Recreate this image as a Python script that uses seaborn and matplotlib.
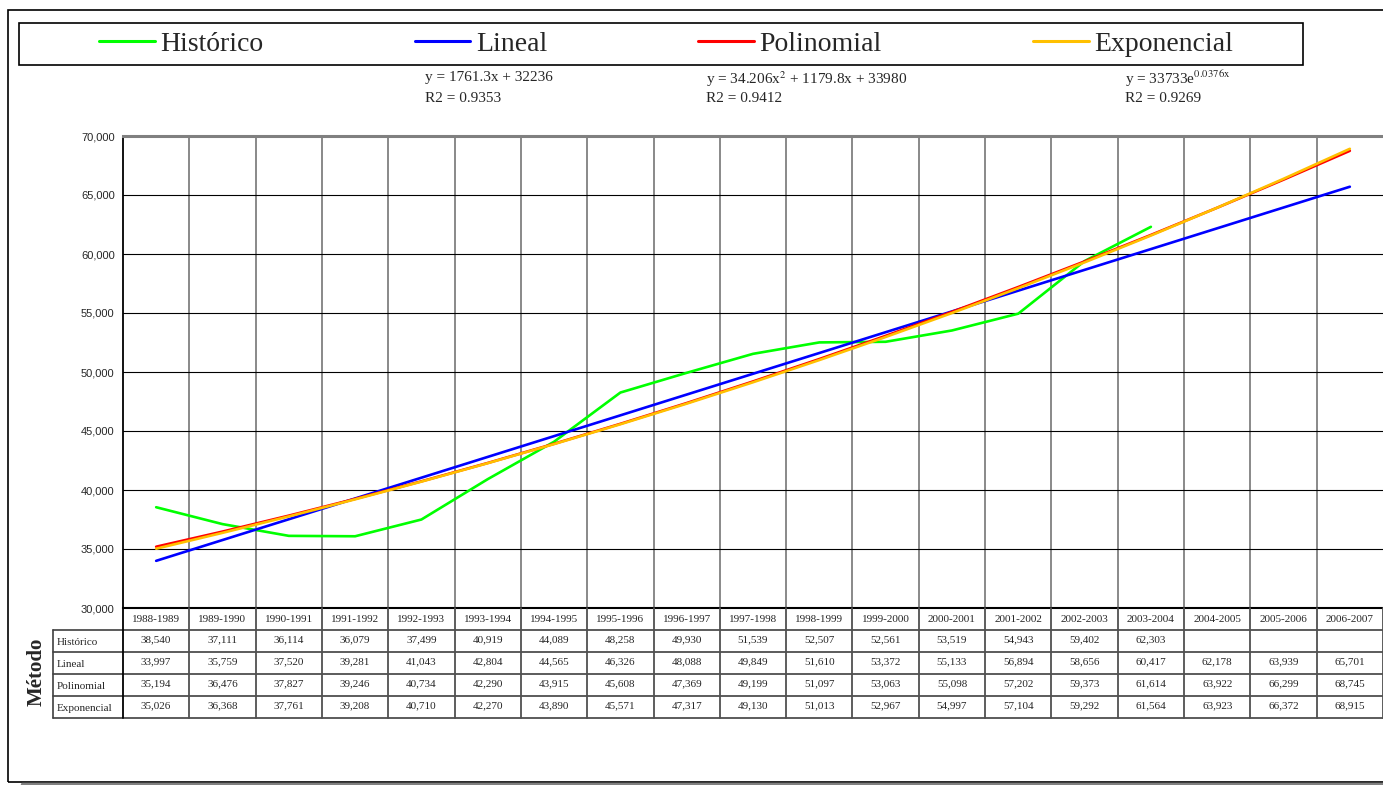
import numpy as np
import pandas as pd
import matplotlib
matplotlib.use("Agg")
import matplotlib.pyplot as plt
from matplotlib.lines import Line2D
from matplotlib.patches import Rectangle
from matplotlib.ticker import FuncFormatter
import seaborn as sns

# data
periodos = ["1988-1989", "1989-1990", "1990-1991", "1991-1992", "1992-1993", "1993-1994",
            "1994-1995", "1995-1996", "1996-1997", "1997-1998", "1998-1999", "1999-2000",
            "2000-2001", "2001-2002", "2002-2003", "2003-2004", "2004-2005", "2005-2006",
            "2006-2007"]
historico = [38540, 37111, 36114, 36079, 37499, 40919, 44089, 48258, 49930, 51539,
             52507, 52561, 53519, 54943, 59402, 62303]
lineal = [33997, 35759, 37520, 39281, 41043, 42804, 44565, 46326, 48088, 49849, 51610,
          53372, 55133, 56894, 58656, 60417, 62178, 63939, 65701]
polinomial = [35194, 36476, 37827, 39246, 40734, 42290, 43915, 45608, 47369, 49199, 51097,
              53063, 55098, 57202, 59373, 61614, 63922, 66299, 68745]
exponencial = [35026, 36368, 37761, 39208, 40710, 42270, 43890, 45571, 47317, 49130, 51013,
               52967, 54997, 57104, 59292, 61564, 63923, 66372, 68915]
metodos = ["Histórico", "Lineal", "Polinomial", "Exponencial"]
colores = ["#00FF00", "#0000FF", "#FF0000", "#FFC000"]
ecuaciones = ["y = 1761.3x + 32236",
              r"y = 34.206x$^{\mathrm{2}}$ + 1179.8x + 33980",
              r"y = 33733e$^{\mathrm{0.0376x}}$"]
r2 = ["R2 = 0.9353", "R2 = 0.9412", "R2 = 0.9269"]

series = dict(zip(metodos, [historico, lineal, polinomial, exponencial]))
rows = []
for m, vals in series.items():
    for i, v in enumerate(vals):
        rows.append({"idx": i, "valor": v, "Método": m})
df = pd.DataFrame(rows)

sns.set_style("white")
plt.rcParams["font.family"] = ["Liberation Serif", "DejaVu Serif"]
plt.rcParams["mathtext.fontset"] = "stix"

W, H = 1383, 785
fx = lambda p: p / W
fy = lambda p: 1 - p / H

fig = plt.figure(figsize=(13.83, 7.85), dpi=100)

# outer frame + shadow
fig.add_artist(Rectangle((fx(8), fy(782)), 1.02, fy(10) - fy(782), transform=fig.transFigure,
                         fill=False, ec="black", lw=1.2))
fig.add_artist(Line2D([fx(22), 1.0], [fy(784), fy(784)], transform=fig.transFigure,
                      color="#808080", lw=2.5))

ax = fig.add_axes([fx(123), fy(608), 1 - fx(123), fy(136) - fy(608)])
sns.lineplot(data=df, x="idx", y="valor", hue="Método", hue_order=metodos,
             palette=colores, linewidth=1.9, legend=False, ax=ax, zorder=3)
ax.set_xlim(-0.5, 18.5)
ax.set_ylim(30000, 70000)
ax.set_yticks(range(30000, 70001, 5000))
ax.yaxis.set_major_formatter(FuncFormatter(lambda v, p: f"{v:,.0f}"))
ax.set_xticks(np.arange(0.5, 18.5, 1))
ax.tick_params(axis="x", length=0, labelbottom=False)
ax.tick_params(axis="y", length=4, width=1, pad=2, labelsize=8, color="black")
for t in ax.get_yticklabels():
    t.set_family("Liberation Sans")
ax.grid(axis="x", color="#808080", lw=1.3)
ax.grid(axis="y", color="black", lw=0.8)
ax.set_xlabel("")
ax.set_ylabel("")
ax.spines["top"].set_color("#808080")
ax.spines["top"].set_linewidth(2.2)
ax.spines["right"].set_visible(False)
ax.spines["left"].set_color("black")
ax.spines["left"].set_linewidth(1.3)
ax.spines["bottom"].set_color("black")
ax.spines["bottom"].set_linewidth(1.5)

# data table
tax = fig.add_axes([fx(123), fy(718), 1 - fx(123), fy(608) - fy(718)])
tax.set_xlim(-0.5, 18.5)
tax.set_ylim(5, 0)
tax.axis("off")
x0 = -0.5 - 70 / ((W - 123) / 19)
for k in range(1, 6):
    tax.plot([x0, 18.5], [k, k], color="#404040", lw=1.2, clip_on=False)
for k in np.arange(-0.5, 19, 1):
    tax.plot([k, k], [0, 5], color="#505050" if k > -0.5 else "black", lw=1.3, clip_on=False)
tax.plot([x0, x0], [1, 5], color="#404040", lw=1.2, clip_on=False)
for i, p in enumerate(periodos):
    tax.text(i, 0.5, p, ha="center", va="center", fontsize=8)
for r, m in enumerate(metodos):
    tax.text(x0 + 0.05, r + 1.55, m, ha="left", va="center", fontsize=8, clip_on=False)
    for i, v in enumerate(series[m]):
        tax.text(i, r + 1.45, f"{v:,}", ha="center", va="center", fontsize=8)

fig.text(fx(37), fy(672), "Método", rotation=90, fontsize=15, fontweight="bold",
         ha="center", va="center")

# legend
handles = [Line2D([], [], color=c, lw=2.2) for c in colores]
fig.legend(handles, metodos, loc="center left", bbox_to_anchor=(fx(99), fy(44)),
           ncol=4, frameon=False, borderpad=0, borderaxespad=0, fontsize=20,
           handlelength=2.0, handletextpad=0.2, columnspacing=5.45)
fig.add_artist(Rectangle((fx(19), fy(65)), fx(1303) - fx(19), fy(23) - fy(65),
                         transform=fig.transFigure, fill=False, ec="black", lw=1.2))

# trend equations
for xp, yp, e, r in zip([425, 706, 1125], [77, 79, 79], ecuaciones, r2):
    fig.text(fx(xp), fy(yp), e, fontsize=11, va="center", ha="left")
    fig.text(fx(xp), fy(98), r, fontsize=11, va="center", ha="left")

fig.savefig("out.png", dpi=100)
